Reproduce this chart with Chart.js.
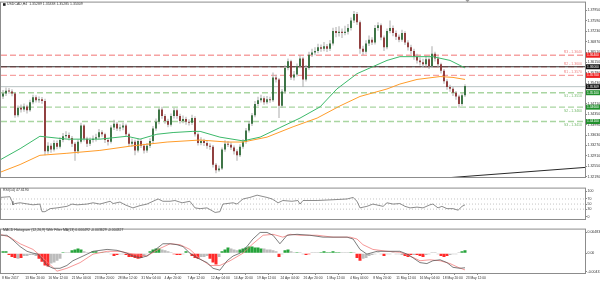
<!DOCTYPE html>
<html>
<head>
<meta charset="utf-8">
<title>USDCAD H4</title>
<script src="https://cdn.jsdelivr.net/npm/chart.js@4.4.1/dist/chart.umd.min.js"></script>
<style>
  html, body { margin: 0; padding: 0; background: #fff; }
  #wrap { position: relative; width: 600px; height: 281px; overflow: hidden; background: #fff; }
  #wrap canvas { position: absolute; left: 0; }
</style>
</head>
<body>
<div id="wrap">
  <canvas id="priceChart" width="600" height="186" style="top:0px"></canvas>
  <canvas id="rsiChart" width="600" height="41" style="top:186px"></canvas>
  <canvas id="macdChart" width="600" height="54" style="top:227px"></canvas>
</div>
<script>
// ---- candles (H4, one candle ~ 3px) ----
const opens = [
  1.3497,1.3507,1.3517,1.3514,1.3507,1.3432,1.3458,1.3452,1.3462,1.3449,
  1.3477,1.3494,1.3484,1.3487,1.3481,1.3307,1.3326,1.3313,1.3336,1.3323,
  1.3346,1.3359,1.3363,1.3353,1.3333,1.3307,1.3340,1.3396,1.3350,1.3333,
  1.3346,1.3350,1.3356,1.3373,1.3366,1.3346,1.3340,1.3389,1.3402,1.3386,
  1.3389,1.3396,1.3366,1.3333,1.3340,1.3310,1.3343,1.3326,1.3310,1.3326,
  1.3343,1.3386,1.3409,1.3452,1.3429,1.3412,1.3399,1.3429,1.3449,1.3429,
  1.3412,1.3419,1.3409,1.3406,1.3422,1.3366,1.3336,1.3343,1.3336,1.3326,
  1.3323,1.3260,1.3241,1.3247,1.3313,1.3333,1.3330,1.3320,1.3307,1.3293,
  1.3323,1.3340,1.3379,1.3402,1.3432,1.3471,1.3484,1.3491,1.3477,1.3487,
  1.3484,1.3563,1.3556,1.3465,1.3514,1.3596,1.3619,1.3563,1.3573,1.3602,
  1.3629,1.3556,1.3596,1.3642,1.3649,1.3655,1.3668,1.3662,1.3671,1.3662,
  1.3681,1.3724,1.3717,1.3721,1.3717,1.3721,1.3734,1.3760,1.3783,1.3754,
  1.3662,1.3652,1.3681,1.3694,1.3684,1.3734,1.3744,1.3701,1.3668,1.3724,
  1.3734,1.3717,1.3704,1.3694,1.3717,1.3684,1.3668,1.3655,1.3635,1.3622,
  1.3616,1.3609,1.3626,1.3602,1.3645,1.3629,1.3609,1.3586,1.3550,1.3530,
  1.3524,1.3510,1.3497,1.3471,1.3501
];
const highs = [
  1.3519,1.3528,1.3526,1.3522,1.3512,1.3466,1.3469,1.3473,1.3468,1.3486,
  1.3503,1.3501,1.3497,1.3495,1.3489,1.3338,1.3335,1.3345,1.3344,1.3356,
  1.3370,1.3376,1.3372,1.3360,1.3339,1.3348,1.3406,1.3401,1.3357,1.3355,
  1.3362,1.3368,1.3384,1.3380,1.3371,1.3353,1.3397,1.3416,1.3409,1.3401,
  1.3407,1.3402,1.3371,1.3351,1.3347,1.3352,1.3350,1.3333,1.3336,1.3352,
  1.3395,1.3421,1.3458,1.3461,1.3436,1.3420,1.3438,1.3457,1.3455,1.3437,
  1.3431,1.3427,1.3418,1.3434,1.3428,1.3372,1.3356,1.3350,1.3343,1.3335,
  1.3329,1.3266,1.3258,1.3320,1.3345,1.3343,1.3338,1.3327,1.3314,1.3331,
  1.3349,1.3388,1.3412,1.3440,1.3481,1.3496,1.3503,1.3498,1.3499,1.3496,
  1.3580,1.3572,1.3561,1.3523,1.3605,1.3629,1.3624,1.3585,1.3611,1.3640,
  1.3635,1.3606,1.3652,1.3662,1.3668,1.3680,1.3677,1.3686,1.3679,1.3693,
  1.3735,1.3738,1.3740,1.3733,1.3742,1.3748,1.3771,1.3793,1.3790,1.3760,
  1.3673,1.3692,1.3708,1.3702,1.3745,1.3754,1.3750,1.3708,1.3733,1.3760,
  1.3743,1.3726,1.3712,1.3728,1.3723,1.3692,1.3676,1.3662,1.3645,1.3632,
  1.3628,1.3638,1.3632,1.3671,1.3652,1.3636,1.3614,1.3592,1.3557,1.3538,
  1.3531,1.3516,1.3503,1.3508,1.3539
];
const lows = [
  1.3488,1.3499,1.3506,1.3498,1.3423,1.3425,1.3441,1.3444,1.3438,1.3444,
  1.3470,1.3476,1.3475,1.3472,1.3293,1.3298,1.3302,1.3306,1.3314,1.3317,
  1.3338,1.3350,1.3344,1.3322,1.3274,1.3298,1.3334,1.3341,1.3322,1.3325,
  1.3337,1.3341,1.3349,1.3357,1.3336,1.3327,1.3334,1.3381,1.3377,1.3376,
  1.3380,1.3357,1.3324,1.3323,1.3293,1.3303,1.3318,1.3299,1.3302,1.3318,
  1.3336,1.3378,1.3401,1.3420,1.3402,1.3390,1.3393,1.3421,1.3420,1.3403,
  1.3404,1.3399,1.3396,1.3398,1.3358,1.3327,1.3328,1.3325,1.3316,1.3312,
  1.3251,1.3231,1.3236,1.3242,1.3305,1.3322,1.3311,1.3296,1.3274,1.3287,
  1.3316,1.3333,1.3372,1.3395,1.3425,1.3464,1.3476,1.3468,1.3470,1.3475,
  1.3478,1.3545,1.3422,1.3458,1.3507,1.3588,1.3554,1.3552,1.3566,1.3595,
  1.3530,1.3549,1.3590,1.3634,1.3640,1.3647,1.3652,1.3654,1.3651,1.3655,
  1.3674,1.3702,1.3705,1.3700,1.3709,1.3712,1.3726,1.3752,1.3745,1.3645,
  1.3641,1.3645,1.3672,1.3675,1.3677,1.3725,1.3692,1.3655,1.3661,1.3716,
  1.3706,1.3693,1.3685,1.3687,1.3675,1.3656,1.3643,1.3624,1.3611,1.3604,
  1.3596,1.3600,1.3592,1.3596,1.3618,1.3599,1.3577,1.3541,1.3520,1.3513,
  1.3499,1.3486,1.3458,1.3465,1.3495
];
const closes = [
  1.3507,1.3517,1.3514,1.3507,1.3432,1.3458,1.3452,1.3462,1.3449,1.3477,
  1.3494,1.3484,1.3487,1.3481,1.3307,1.3326,1.3313,1.3336,1.3323,1.3346,
  1.3359,1.3363,1.3353,1.3333,1.3307,1.3340,1.3396,1.3350,1.3333,1.3346,
  1.3350,1.3356,1.3373,1.3366,1.3346,1.3340,1.3389,1.3402,1.3386,1.3389,
  1.3396,1.3366,1.3333,1.3340,1.3310,1.3343,1.3326,1.3310,1.3326,1.3343,
  1.3386,1.3409,1.3452,1.3429,1.3412,1.3399,1.3429,1.3449,1.3429,1.3412,
  1.3419,1.3409,1.3406,1.3422,1.3366,1.3336,1.3343,1.3336,1.3326,1.3323,
  1.3260,1.3241,1.3247,1.3313,1.3333,1.3330,1.3320,1.3307,1.3293,1.3323,
  1.3340,1.3379,1.3402,1.3432,1.3471,1.3484,1.3491,1.3477,1.3487,1.3484,
  1.3563,1.3556,1.3465,1.3514,1.3596,1.3619,1.3563,1.3573,1.3602,1.3629,
  1.3556,1.3596,1.3642,1.3649,1.3655,1.3668,1.3662,1.3671,1.3662,1.3681,
  1.3724,1.3717,1.3721,1.3717,1.3721,1.3734,1.3760,1.3783,1.3754,1.3662,
  1.3652,1.3681,1.3694,1.3684,1.3734,1.3744,1.3701,1.3668,1.3724,1.3734,
  1.3717,1.3704,1.3694,1.3717,1.3684,1.3668,1.3655,1.3635,1.3622,1.3616,
  1.3609,1.3626,1.3602,1.3645,1.3629,1.3609,1.3586,1.3550,1.3530,1.3524,
  1.3510,1.3497,1.3471,1.3501,1.3533
];

// moving averages (x = candle position, y = price)
const maFastX = [-1, 5.7, 12.3, 21.3, 32.3, 41.3, 45.7, 51.3, 56.7, 63.3, 65.7, 72.3, 80, 85.7, 92.3, 99, 105.7, 111.3, 118, 128, 132.3, 136.7, 143.3, 149, 154];
const maFastY = [1.3277, 1.3316, 1.3359, 1.3349, 1.3349, 1.3359, 1.3349, 1.3366, 1.3372, 1.3376, 1.3376, 1.3356, 1.3343, 1.3356, 1.3389, 1.3422, 1.3461, 1.3523, 1.3576, 1.3622, 1.3635, 1.3635, 1.3635, 1.3622, 1.3596];
const maSlowX = [-1, 5.7, 12.3, 21.3, 32.3, 43.3, 54.7, 65.7, 74.7, 80, 88, 96.7, 104.7, 112.3, 119, 128, 132.3, 138, 145.7, 150, 154];
const maSlowY = [1.3234, 1.3261, 1.3293, 1.3300, 1.3310, 1.3326, 1.3339, 1.3346, 1.3339, 1.3339, 1.3356, 1.3392, 1.3422, 1.3464, 1.3497, 1.3523, 1.3540, 1.3556, 1.3566, 1.3563, 1.3556];

// levels and lines
const pivotNames = ['R3', 'R2', 'R1', 'S1', 'S2', 'S3'];
const pivotLevels = [1.3640, 1.3600, 1.3570, 1.3510, 1.3460, 1.3410];
const lineLevel = 1.3600;
const bidPrice = 1.35309;
const trendX = [120, 194];
const trendY = [1.3193, 1.3251];
const priceTicks = [1.3219, 1.3255, 1.3291, 1.3327, 1.3363, 1.3399, 1.3435, 1.3471, 1.3507, 1.3543, 1.3579, 1.3615, 1.3651, 1.3687, 1.3723, 1.3759, 1.3795];
const headerText = 'USDCAD,H4  1.35289 1.35338 1.35285 1.35309';

// RSI(14)
const rsiX = [-1, 2.3, 3, 3.3, 4, 5.7, 10, 12.3, 13, 14, 15.7, 18, 21.3, 23, 24.7, 28, 30, 32.3, 35.7, 36.7, 39, 40.7, 43.3, 45.7, 48, 50, 51.7, 53.3, 55.7, 57.3, 59.7, 62.3, 64, 65.7, 68, 70.7, 72.3, 73.3, 76.7, 78, 80, 82.3, 84.7, 88, 89.7, 91.7, 93.3, 96.3, 98.3, 99, 100, 104.7, 110, 114.7, 116.7, 118, 119, 121.3, 123.3, 126.7, 128, 130, 132.3, 134, 135.7, 138, 140, 142.3, 143.3, 145, 146.3, 148, 150, 151.7, 153, 154];
const rsiY = [76, 79, 61, 47, 52, 55, 47, 50, 20, 20, 32, 35, 41, 50, 47, 50, 55, 50, 61, 52, 58, 47, 35, 44, 50, 61, 70, 61, 61, 64, 55, 61, 35, 32, 35, 17, 20, 50, 55, 50, 70, 76, 85, 76, 70, 55, 64, 61, 64, 50, 64, 64, 67, 70, 76, 61, 35, 41, 50, 41, 55, 50, 52, 41, 35, 38, 35, 47, 50, 35, 41, 32, 32, 26, 41, 47];
const rsiLevels = [70, 50, 30];
const rsiTicks = [0, 30, 50, 70, 100];
const rsiText = 'RSI(14) 47.6190';

// MACD histogram (12,26,9) with filter MA(13)
const macdX = [-1, 1.3, 3.3, 5.7, 8, 10, 11.7, 13, 14.7, 16.7, 19, 21.3, 23.3, 26.7, 30, 34.7, 38, 41.3, 43.3, 45.7, 48, 51.3, 53.3, 55.7, 58, 60, 62.3, 64.7, 66.7, 68, 70, 72.3, 74.7, 76.7, 79, 81.3, 83.3, 85.7, 88, 90, 92.3, 94.7, 98, 102.3, 106.7, 110, 114.7, 116.7, 119, 121.3, 124.7, 128, 132.3, 134.7, 136.7, 139, 141.3, 143.3, 145.7, 148, 150, 152.3, 154];
const macdY = [0.00418, 0.00418, 0.00308, 0.00154, 0.00044, 0, -0.00022, -0.00132, -0.00286, -0.00352, -0.00352, -0.00286, -0.00176, -0.00066, 0.00044, 0.00088, 0.00066, 0, -0.00066, -0.0011, -0.00066, 0.0011, 0.0022, 0.0022, 0.00198, 0.00154, 0, -0.0011, -0.00176, -0.0022, -0.00352, -0.00396, -0.00176, -0.00066, 0, 0.00154, 0.0033, 0.00484, 0.00484, 0.00418, 0.0022, 0.00418, 0.0044, 0.00418, 0.00374, 0.00374, 0.00374, 0.0033, 0.00088, -0.00022, 0.00044, 0.00044, 0.00044, -0.00022, -0.0011, -0.0022, -0.00242, -0.00176, -0.00154, -0.0022, -0.0033, -0.00352, -0.0034];
const signalX = [-1, 2.3, 5.7, 10, 13.3, 18, 21.3, 25.7, 30, 34.7, 39, 43.3, 48, 52.3, 55.7, 59, 62.3, 65.7, 69, 72.3, 75.7, 80, 83.3, 86.7, 90, 93.3, 95.7, 99, 104.7, 110, 115.7, 118, 120, 123.3, 128, 132.3, 135.7, 139, 142.3, 145.7, 149, 151.7, 154];
const signalY = [0.0044, 0.00374, 0.0022, 0.00088, -0.0011, -0.0042, -0.00352, -0.0022, -0.00022, 0.00044, 0.00044, -0.00022, -0.00066, 0.0011, 0.0022, 0.00198, 0.00088, -0.00132, -0.00286, -0.00286, -0.00176, 0, 0.0022, 0.00418, 0.0044, 0.00374, 0.0044, 0.00418, 0.00418, 0.00374, 0.00374, 0.0033, 0.00198, 0.00088, 0.00044, 0.00022, -0.00066, -0.00176, -0.00154, -0.00176, -0.00242, -0.0033, -0.0039];
const histVals = [
  0.00044,0.00044,-0.00044,-0.00088,-0.0011,-0.00132,-0.0011,-0.00066,-0.00066,-0.00044,
  -0.00044,-0.00066,-0.00132,-0.00198,-0.00286,-0.00308,-0.00242,-0.0022,-0.00176,-0.00132,
  0.00022,0.00022,0.00022,0.00066,0.00088,0.0011,0.00088,0.00044,0.00022,0.00022,
  0.00044,0.00044,0.00022,0.00022,0.00022,0.00022,-0.00022,-0.00066,-0.00044,-0.00022,
  -0.00022,-0.00044,-0.00088,-0.00088,-0.0011,-0.00132,-0.0011,-0.00066,-0.00022,0.00044,
  0.00088,0.0011,0.0011,0.00088,0.00066,0.00044,0.00022,-0.00022,-0.00044,-0.00044,
  -0.00022,0.00044,0.00022,-0.00066,-0.0011,-0.00132,-0.00088,-0.00088,-0.00066,-0.00132,
  -0.0022,-0.00264,-0.00088,0.00044,0.00088,0.00132,0.0011,0.00088,0.00066,0.00088,
  0.0011,0.00132,0.00154,0.00154,0.00132,0.00132,0.0011,0.0011,0.00088,0.00088,
  0.00066,0.00044,-0.00088,-0.00022,0.00066,0.00088,0.00044,0.00022,0.00022,0.00022,
  -0.00022,-0.00044,-0.00022,0.00022,0.00022,0.00022,0.00022,0.00044,0.00022,0.00022,
  0.00044,0.00022,0.00022,0.00022,0.00022,0.00022,0.00022,0.00022,-0.0011,-0.00176,
  -0.00132,-0.0011,-0.00066,-0.00044,-0.00022,0.00022,-0.00022,-0.00066,-0.00022,-0.00022,
  0.00022,-0.00022,-0.00022,-0.00044,-0.00066,-0.00088,-0.00044,-0.00044,-0.00044,-0.00066,
  -0.00088,-0.00044,-0.00022,0.00022,0.00022,-0.00022,-0.00066,-0.00088,-0.00066,-0.00044,
  -0.00022,-0.00022,0.00022,0.00044,0.00066
];
// g = rising, r = falling, n = filtered
const histState = 'ggrrrnrnnn' + 'nnrrrrnnnn' + 'gnnggggnnn' + 'ggngnnnrrn' + 'nrrrrrrnng' +
                  'gggnnnnrrr' + 'ngnrrrnnnr' + 'rrngggnnng' + 'gggggggnnn' + 'nnrnggnngn' +
                  'nrrnnngggg' + 'gggnnngnrr' + 'nnnnnnnrnn' + 'nnnnrrrnrr' + 'rnnnnnrrrn' + 'nnngg';
const macdTicks = [-0.004311, 0, 0.004839];
const macdText = 'MACD Histogram (12,26,9) With Filter MA(13) 0.000492 -0.003629 -0.004327';

// time axis
const timeLabels = ['8 Mar 2017', '13 Mar 20:00', '16 Mar 12:00', '21 Mar 04:00', '23 Mar 20:00', '28 Mar 12:00',
  '31 Mar 04:00', '4 Apr 20:00', '7 Apr 12:00', '12 Apr 04:00', '14 Apr 20:00', '19 Apr 12:00', '24 Apr 04:00',
  '26 Apr 20:00', '1 May 12:00', '4 May 04:00', '8 May 20:00', '11 May 12:00', '16 May 04:00', '18 May 20:00', '23 May 12:00'];
const timeTickPos = [-0.33, 7.4, 15.1, 22.9, 30.6, 38.3, 46.1, 53.8, 61.5, 69.3, 77, 84.7, 92.5, 100.2, 107.9, 115.7, 123.4, 131.1, 138.9, 146.6, 154.3];

// ---- layout and colours ----
const X_MIN = -0.667, X_MAX = 194;
const PRICE_MIN = 1.32178, PRICE_MAX = 1.38224;
const AXIS_W = 15;
const FONT = "'Liberation Sans', Arial, sans-serif";
const C = {
  up: '#2f6b38', down: '#8a3030', wick: '#ababab',
  maFast: '#3cb96a', maSlow: '#ff9c2a',
  rLine: '#f6a2a2', sLine: '#a9d5a1', hLine: '#2a2a2a', bid: '#b7c2c2', trend: '#2a2a2a',
  rText: '#f08585', sText: '#74b96c',
  boxR: '#ee2020', boxK: '#111111', boxG: '#21902d',
  rsi: '#707070', level: '#c4c4c4',
  macd: '#5a5a5a', signal: '#f47c7c',
  hUp: '#25a33a', hDown: '#ff2a2a', hFlat: '#bcbcbc',
  frame: '#8c8c8c', text: '#333333'
};

Chart.defaults.font.family = FONT;
Chart.defaults.font.size = 3.5;
Chart.defaults.color = C.text;

const idx = opens.map((_, i) => i);
const toPts = (xs, ys) => xs.map((x, i) => ({ x: x, y: ys[i] }));
const flat = v => [{ x: X_MIN, y: v }, { x: X_MAX, y: v }];

function xAxis(show) {
  return {
    type: 'linear', min: X_MIN, max: X_MAX, offset: false, display: show,
    grid: { display: true, drawOnChartArea: false, drawTicks: true, tickLength: 2, color: C.frame },
    border: { display: false },
    ticks: {
      autoSkip: false, maxRotation: 0, minRotation: 0, align: 'start', padding: 1,
      font: { size: 3.3 }, color: C.text,
      callback: (v, i) => timeLabels[i]
    },
    afterBuildTicks: s => { s.ticks = timeTickPos.map(v => ({ value: v })); },
    afterFit: s => { s.height = 8; }
  };
}

function yAxis(min, max, tickVals, fmt) {
  return {
    type: 'linear', position: 'right', min: min, max: max,
    grid: { display: true, drawOnChartArea: false, drawTicks: true, tickLength: 2, color: C.frame },
    border: { display: false },
    ticks: { autoSkip: false, padding: 0.5, font: { size: 3.5 }, color: C.text, callback: fmt },
    afterBuildTicks: s => { s.ticks = tickVals.map(v => ({ value: v })); },
    afterFit: s => { s.width = AXIS_W; }
  };
}

function lineSet(points, color, width, extra) {
  return Object.assign({
    type: 'line', data: points, borderColor: color, borderWidth: width,
    pointRadius: 0, tension: 0, clip: 0, fill: false
  }, extra || {});
}

// panel frame (MT4 style)
const frame = {
  id: 'frame',
  afterDraw(chart) {
    const { ctx, chartArea: a } = chart;
    const top = Math.max(a.top - 0.5, 0.5);
    const bottom = Math.min(a.bottom + 0.5, chart.height - 0.5);
    ctx.save();
    ctx.strokeStyle = C.frame;
    ctx.lineWidth = 1;
    ctx.strokeRect(a.left - 0.5, top, a.right - a.left + 1, bottom - top);
    ctx.restore();
  }
};

function caption(text, y, square) {
  return {
    id: 'caption',
    afterDraw(chart) {
      const ctx = chart.ctx;
      ctx.save();
      ctx.font = '3.5px ' + FONT;
      ctx.fillStyle = C.text;
      ctx.textBaseline = 'middle';
      let x = 3;
      if (square) {
        ctx.fillStyle = '#222';
        ctx.fillRect(3, y - 1.3, 2.6, 2.6);
        ctx.fillStyle = C.text;
        x = 7;
      }
      ctx.fillText(text, x, y);
      ctx.restore();
    }
  };
}

// pivot captions + price boxes on the right scale
const priceOverlay = {
  id: 'priceOverlay',
  afterDraw(chart) {
    const { ctx, chartArea: a, scales } = chart;
    const y = scales.y;
    ctx.save();
    ctx.font = '3.5px ' + FONT;
    ctx.textAlign = 'right';
    ctx.textBaseline = 'middle';
    pivotNames.forEach((n, i) => {
      const py = y.getPixelForValue(pivotLevels[i]);
      const isR = n[0] === 'R';
      ctx.fillStyle = isR ? C.rText : C.sText;
      ctx.fillText(n + ' - ' + pivotLevels[i].toFixed(4), a.right - 3, isR ? py - 3 : py + 3.5);
    });
    const boxes = [
      [pivotLevels[0], C.boxR], [lineLevel, C.boxK], [pivotLevels[2], C.boxR],
      [bidPrice, C.boxK], [pivotLevels[3], C.boxG], [pivotLevels[4], C.boxG], [pivotLevels[5], C.boxG]
    ];
    ctx.textAlign = 'left';
    ctx.font = '3.3px ' + FONT;
    boxes.forEach(([v, col]) => {
      const py = y.getPixelForValue(v);
      ctx.fillStyle = col;
      ctx.fillRect(a.right + 1, py - 2.5, chart.width - a.right - 1, 5);
      ctx.fillStyle = '#fff';
      ctx.fillText(v.toFixed(5), a.right + 2, py);
    });
    // chart shift marker
    ctx.fillStyle = '#9a9a9a';
    ctx.beginPath();
    ctx.moveTo(465.5, 0); ctx.lineTo(469.5, 0); ctx.lineTo(467.5, 2.5); ctx.closePath();
    ctx.fill();
    ctx.restore();
  }
};

const baseOptions = (scales, padding) => ({
  responsive: false, animation: false, events: [],
  layout: { padding: padding },
  plugins: { legend: { display: false }, tooltip: { enabled: false } },
  scales: scales
});

// ---- price panel ----
const priceSets = [];
pivotLevels.forEach((lv, i) => {
  priceSets.push(lineSet(flat(lv), pivotNames[i][0] === 'R' ? C.rLine : C.sLine, 1.4, { borderDash: [6, 3], order: 9 }));
});
priceSets.push(lineSet(flat(lineLevel), C.hLine, 1.1, { order: 8 }));
priceSets.push(lineSet(flat(bidPrice), C.bid, 1, { order: 8 }));
priceSets.push({
  type: 'bar', order: 5, grouped: false, barThickness: 1, inflateAmount: 0, borderWidth: 0,
  data: idx.map(i => ({ x: i, y: [lows[i], highs[i]] })),
  backgroundColor: C.wick
});
priceSets.push({
  type: 'bar', order: 4, grouped: false, barThickness: 1.8, inflateAmount: 0, borderWidth: 0, minBarLength: 1,
  data: idx.map(i => ({ x: i, y: [opens[i], closes[i]] })),
  backgroundColor: idx.map(i => closes[i] >= opens[i] ? C.up : C.down)
});
priceSets.push(lineSet(toPts(maSlowX, maSlowY), C.maSlow, 1, { order: 2 }));
priceSets.push(lineSet(toPts(maFastX, maFastY), C.maFast, 1, { order: 1 }));
priceSets.push(lineSet(toPts(trendX, trendY), C.trend, 1, { order: 0 }));

new Chart(document.getElementById('priceChart'), {
  type: 'bar',
  data: { datasets: priceSets },
  options: baseOptions({
    x: xAxis(false),
    y: yAxis(PRICE_MIN, PRICE_MAX, priceTicks, v => v.toFixed(5))
  }, { left: 1, top: 1, right: 0, bottom: 1 }),
  plugins: [frame, priceOverlay, caption(headerText, 4.5, true)]
});

// ---- RSI panel ----
const rsiSets = rsiLevels.map(lv => lineSet(flat(lv), C.level, 1, { borderDash: [1, 2], order: 5 }));
rsiSets.push(lineSet(toPts(rsiX, rsiY), C.rsi, 0.8, { order: 0 }));

new Chart(document.getElementById('rsiChart'), {
  type: 'line',
  data: { datasets: rsiSets },
  options: baseOptions({
    x: xAxis(false),
    y: yAxis(-8.7, 110.8, rsiTicks, v => String(v))
  }, { left: 1, top: 0, right: 0, bottom: 0 }),
  plugins: [frame, caption(rsiText, 4, false)]
});

// ---- MACD panel ----
const histColor = { g: C.hUp, r: C.hDown, n: C.hFlat };
new Chart(document.getElementById('macdChart'), {
  type: 'bar',
  data: {
    datasets: [
      {
        type: 'bar', order: 3, grouped: false, barThickness: 3, inflateAmount: 0, borderWidth: 0,
        data: idx.map(i => ({ x: i, y: histVals[i] })),
        backgroundColor: idx.map(i => histColor[histState[i]])
      },
      lineSet(toPts(signalX, signalY), C.signal, 0.8, { order: 1 }),
      lineSet(toPts(macdX, macdY), C.macd, 0.8, { order: 0 })
    ]
  },
  options: baseOptions({
    x: xAxis(true),
    y: yAxis(-0.004619, 0.0054989, macdTicks, v => v === 0 ? '0.00' : v.toFixed(6))
  }, { left: 1, top: 0, right: 0, bottom: 0 }),
  plugins: [frame, caption(macdText, 3.5, false)]
});
</script>
</body>
</html>
